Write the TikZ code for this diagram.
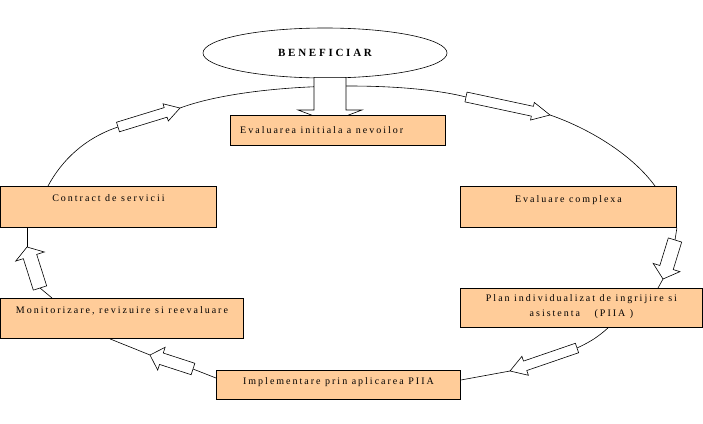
\documentclass[tikz,border=0pt]{standalone}
\usepackage{fontspec}
\setmainfont{Liberation Serif}[LetterSpace=20]
\usetikzlibrary{shapes.geometric,calc,positioning}

\definecolor{boxpeach}{RGB}{255,204,153}

\tikzset{
  box/.style={rectangle,draw=black,fill=boxpeach,line width=0.9pt,anchor=north west,inner sep=0pt},
  boxtext/.style={anchor=base,inner sep=0pt,font=\fontsize{10}{15}\selectfont},
  loop/.style={line width=0.6pt},
  hollow/.style={draw=black,fill=white,line width=0.6pt,line join=miter}
}

% tail, tip, half shaft, half head, head length
\newcommand{\hollowarrow}[5]{%
  \path ($(#2)!#5!(#1)$) coordinate (neck);
  \draw[hollow] ($(#1)!#3!90:(#2)$) -- ($(neck)!#3!90:(#2)$) -- ($(neck)!#4!90:(#2)$) -- (#2)
    -- ($(neck)!-#4!90:(#2)$) -- ($(neck)!-#3!90:(#2)$) -- ($(#1)!-#3!90:(#2)$) -- cycle;
}

\begin{document}
\begin{tikzpicture}[x=1pt,y=-1pt]
\useasboundingbox (0,0) rectangle (703,423);

\node at (325,53) [ellipse,draw=black,fill=white,line width=0.6pt,minimum width=244pt,minimum height=50pt,inner sep=0pt,
  font=\bfseries\fontsize{11}{13}\selectfont\addfontfeature{LetterSpace=25}] (ben) {BENEFICIAR};

\node at (0,186) [box,minimum width=216pt,minimum height=41pt] (contract) {};
\node at (460,186) [box,minimum width=216pt,minimum height=41pt] (complexa) {};
\node at (460,288) [box,minimum width=242pt,minimum height=39pt] (plan) {};
\node at (0,298) [box,minimum width=243pt,minimum height=40pt] (monit) {};
\node at (216,370) [box,minimum width=244pt,minimum height=29pt] (impl) {};

% ends of the hollow arrows
\coordinate (tlA) at (118,127); \coordinate (tlB) at (180,108);
\coordinate (trA) at (466,97);  \coordinate (trB) at (550,115);
\coordinate (rA) at (675,240);  \coordinate (rB) at (663,279);
\coordinate (brA) at (577,348); \coordinate (brB) at (510,371);
\coordinate (blA) at (193,369); \coordinate (blB) at (150,355);
\coordinate (ltA) at (40,288);  \coordinate (ltB) at (27,247);
\coordinate (benA) at ($(ben.south)+(5,-1)$);
\coordinate (initA) at (330,122);

% the loop
\draw[loop] ($(contract.north west)+(48,0)$) .. controls (62,160) and (85,138) .. (tlA);
\draw[loop] (tlB) .. controls (250,82) and (400,80) .. (trA);
\draw[loop] (trB) .. controls (585,127) and (630,152) .. ($(complexa.north west)+(195,0)$);
\draw[loop] (complexa.south east) -- (rA);
\draw[loop] (rB) -- ($(plan.north west)+(198,0)$);
\draw[loop] ($(plan.south west)+(148,0)$) .. controls (598,337) and (590,342) .. (brA);
\draw[loop] (brB) -- ($(impl.north east)+(0,10)$);
\draw[loop] ($(impl.north west)+(0,8)$) -- (blA);
\draw[loop] (blB) -- ($(monit.south west)+(110,0)$);
\draw[loop] ($(monit.north west)+(52,0)$) -- (ltA);
\draw[loop] (ltB) -- ($(contract.south west)+(27,0)$);

\hollowarrow{tlA}{tlB}{5pt}{9pt}{15pt}
\hollowarrow{trA}{trB}{5pt}{9pt}{18pt}
\hollowarrow{rA}{rB}{7pt}{14pt}{12pt}
\hollowarrow{brA}{brB}{5pt}{10pt}{16pt}
\hollowarrow{blA}{blB}{6pt}{12pt}{12pt}
\hollowarrow{ltA}{ltB}{7pt}{15pt}{10pt}
\hollowarrow{benA}{initA}{16pt}{32pt}{12pt}

\node at (230,115) [box,minimum width=215pt,minimum height=30pt] (init) {};

\node at ($(init.north west)+(10,18)$) [boxtext,anchor=base west] (inittxt) {Evaluarea initiala a nevoilor};
\node at ($(contract.north)+(0,15)$) [boxtext] (contracttxt) {Contract de servicii};
\node at ($(complexa.north)+(0,16)$) [boxtext] (complexatxt) {Evaluare complexa};
\node at ($(plan.north)+(0,6)$) [boxtext,anchor=north,align=center] (plantxt) {Plan individualizat de ingrijire si\\asistenta \quad (PIIA )};
\node at ($(monit.north)+(0,15)$) [boxtext] (monittxt) {Monitorizare, revizuire si reevaluare};
\node at ($(impl.north)+(0,14)$) [boxtext] (impltxt) {Implementare prin aplicarea PIIA};
\end{tikzpicture}
\end{document}
